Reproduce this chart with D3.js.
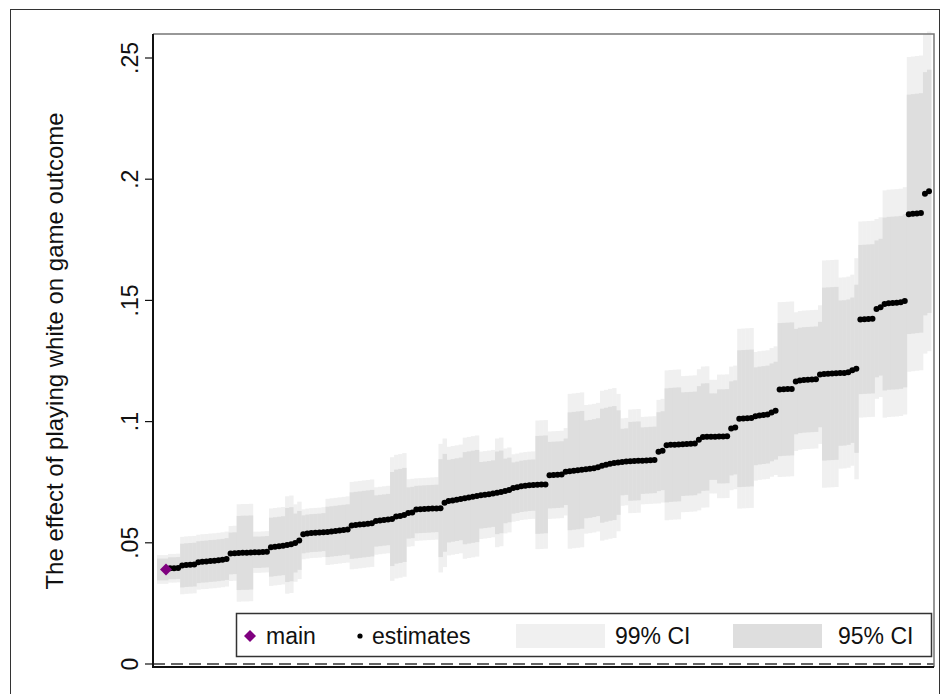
<!DOCTYPE html>
<html>
<head>
<meta charset="utf-8">
<script src="https://cdn.jsdelivr.net/npm/d3@7"></script>
<style>
	body { margin: 0; background: #fff; }
	svg text { font-family: Arial, "Liberation Sans", sans-serif; fill: #111; }
</style>
</head>
<body>
<svg id="plot" width="946" height="694"></svg>
<script>

// point estimates, sorted (spec 1 is the main specification)
const ESTIMATES = [
	0.0390, 0.0395, 0.0395, 0.0396, 0.0406, 0.0408, 0.0409, 0.0410, 0.0420, 0.0422,
	0.0423, 0.0425, 0.0426, 0.0428, 0.0430, 0.0433, 0.0456, 0.0457, 0.0458, 0.0459,
	0.0459, 0.0460, 0.0461, 0.0461, 0.0462, 0.0463, 0.0482, 0.0484, 0.0486, 0.0488,
	0.0491, 0.0494, 0.0499, 0.0510, 0.0535, 0.0538, 0.0540, 0.0541, 0.0542, 0.0544,
	0.0545, 0.0547, 0.0549, 0.0551, 0.0553, 0.0555, 0.0571, 0.0573, 0.0575, 0.0577,
	0.0579, 0.0581, 0.0590, 0.0592, 0.0594, 0.0596, 0.0598, 0.0608, 0.0611, 0.0615,
	0.0623, 0.0625, 0.0637, 0.0638, 0.0639, 0.0640, 0.0641, 0.0642, 0.0643, 0.0665,
	0.0672, 0.0675, 0.0678, 0.0681, 0.0684, 0.0687, 0.0690, 0.0693, 0.0696, 0.0698,
	0.0700, 0.0703, 0.0706, 0.0710, 0.0714, 0.0718, 0.0726, 0.0729, 0.0733, 0.0735,
	0.0737, 0.0738, 0.0739, 0.0740, 0.0741, 0.0779, 0.0780, 0.0781, 0.0782, 0.0793,
	0.0795, 0.0797, 0.0799, 0.0801, 0.0803, 0.0805, 0.0808, 0.0812, 0.0818, 0.0822,
	0.0826, 0.0829, 0.0831, 0.0833, 0.0835, 0.0836, 0.0837, 0.0838, 0.0839, 0.0840,
	0.0841, 0.0842, 0.0876, 0.0880, 0.0902, 0.0904, 0.0905, 0.0906, 0.0907, 0.0908,
	0.0909, 0.0910, 0.0925, 0.0936, 0.0937, 0.0938, 0.0938, 0.0939, 0.0939, 0.0940,
	0.0972, 0.0976, 0.1012, 0.1013, 0.1014, 0.1015, 0.1022, 0.1025, 0.1027, 0.1029,
	0.1038, 0.1045, 0.1132, 0.1133, 0.1134, 0.1135, 0.1165, 0.1170, 0.1172, 0.1173,
	0.1174, 0.1175, 0.1194, 0.1196, 0.1197, 0.1198, 0.1199, 0.1200, 0.1201, 0.1204,
	0.1212, 0.1218, 0.1421, 0.1422, 0.1423, 0.1424, 0.1465, 0.1472, 0.1485, 0.1488,
	0.1489, 0.1490, 0.1492, 0.1498, 0.1855, 0.1857, 0.1859, 0.1861, 0.1940, 0.1950
];

// standard errors, same order
const STD_ERRORS = [
	0.0023, 0.0023, 0.0023, 0.0023, 0.0046, 0.0046, 0.0046, 0.0046, 0.0044, 0.0044,
	0.0044, 0.0044, 0.0044, 0.0044, 0.0044, 0.0044, 0.0044, 0.0044, 0.0078, 0.0078,
	0.0078, 0.0078, 0.0033, 0.0033, 0.0033, 0.0033, 0.0062, 0.0062, 0.0062, 0.0062,
	0.0078, 0.0078, 0.0062, 0.0062, 0.0040, 0.0040, 0.0040, 0.0040, 0.0040, 0.0040,
	0.0053, 0.0053, 0.0053, 0.0053, 0.0053, 0.0053, 0.0070, 0.0070, 0.0070, 0.0070,
	0.0070, 0.0070, 0.0054, 0.0054, 0.0054, 0.0054, 0.0099, 0.0099, 0.0099, 0.0099,
	0.0054, 0.0054, 0.0050, 0.0050, 0.0050, 0.0050, 0.0050, 0.0050, 0.0103, 0.0103,
	0.0087, 0.0087, 0.0087, 0.0087, 0.0097, 0.0097, 0.0097, 0.0097, 0.0070, 0.0070,
	0.0070, 0.0070, 0.0087, 0.0087, 0.0068, 0.0068, 0.0054, 0.0054, 0.0054, 0.0054,
	0.0054, 0.0054, 0.0103, 0.0103, 0.0103, 0.0070, 0.0070, 0.0070, 0.0070, 0.0070,
	0.0124, 0.0124, 0.0124, 0.0124, 0.0103, 0.0103, 0.0103, 0.0103, 0.0120, 0.0120,
	0.0120, 0.0120, 0.0110, 0.0070, 0.0070, 0.0083, 0.0083, 0.0083, 0.0070, 0.0070,
	0.0070, 0.0070, 0.0083, 0.0083, 0.0120, 0.0120, 0.0120, 0.0120, 0.0109, 0.0109,
	0.0109, 0.0109, 0.0113, 0.0113, 0.0113, 0.0091, 0.0091, 0.0099, 0.0099, 0.0099,
	0.0099, 0.0099, 0.0144, 0.0144, 0.0144, 0.0144, 0.0103, 0.0103, 0.0103, 0.0103,
	0.0103, 0.0103, 0.0140, 0.0140, 0.0140, 0.0140, 0.0111, 0.0111, 0.0111, 0.0111,
	0.0111, 0.0111, 0.0111, 0.0182, 0.0182, 0.0182, 0.0182, 0.0153, 0.0153, 0.0153,
	0.0153, 0.0177, 0.0157, 0.0157, 0.0157, 0.0157, 0.0144, 0.0144, 0.0182, 0.0182,
	0.0182, 0.0182, 0.0182, 0.0182, 0.0252, 0.0252, 0.0252, 0.0252, 0.0256, 0.0256
];

const MAIN_SPEC = 1;
const Y_TICKS = [0, 0.05, 0.1, 0.15, 0.2, 0.25];
const Y_TICK_LABELS = ['0', '.05', '.1', '.15', '.2', '.25'];
const Y_TITLE = 'The effect of playing white on game outcome';
const LEGEND_LABELS = ['main', 'estimates', '99% CI', '95% CI'];

const Z95 = 1.96;
const Z99 = 2.576;

const COL_99 = '#f0f0f0';
const COL_95 = '#dedede';
const COL_MAIN = '#7f007f';

const svg = d3.select('#plot');

// outer frame
svg.append('rect')
	.attr('x', 10.5).attr('y', 9.5)
	.attr('width', 929).attr('height', 720)
	.attr('fill', 'none')
	.attr('stroke', '#333').attr('stroke-width', 1);

const box = { left: 153, right: 934, top: 34, bottom: 667 };

const data = ESTIMATES.map((est, i) => ({
	spec: i + 1,
	est: est,
	se: STD_ERRORS[i]
}));

const x = d3.scaleLinear()
	.domain([1, data.length])
	.range([166, 929]);
const step = x(2) - x(1);

const y = d3.scaleLinear()
	.domain([0, 0.25])
	.range([664, 58]);

const plot = svg.append('g');

// bar edges; the first bar reaches back to the axis like in Stata
const barX0 = d => d.spec === 1 ? box.left + 4 : x(d.spec) - step / 2;
const barW = d => x(d.spec) + step / 2 + 0.4 - barX0(d);

// 99% CI bars, then 95% on top
plot.append('g').selectAll('rect')
	.data(data)
	.enter()
	.append('rect')
		.attr('x', barX0)
		.attr('width', barW)
		.attr('y', d => y(d.est + Z99 * d.se))
		.attr('height', d => y(d.est - Z99 * d.se) - y(d.est + Z99 * d.se))
		.attr('fill', COL_99);

plot.append('g').selectAll('rect')
	.data(data)
	.enter()
	.append('rect')
		.attr('x', barX0)
		.attr('width', barW)
		.attr('y', d => y(d.est + Z95 * d.se))
		.attr('height', d => y(d.est - Z95 * d.se) - y(d.est + Z95 * d.se))
		.attr('fill', COL_95);

// zero line
plot.append('line')
	.attr('x1', box.left).attr('x2', box.right)
	.attr('y1', y(0)).attr('y2', y(0))
	.attr('stroke', '#333').attr('stroke-width', 1.5)
	.attr('stroke-dasharray', '12,6');

// estimates
plot.append('g').selectAll('circle')
	.data(data)
	.enter()
	.append('circle')
		.attr('cx', d => x(d.spec))
		.attr('cy', d => y(d.est))
		.attr('r', 3)
		.attr('fill', '#000');

// main spec
const main = data[MAIN_SPEC - 1];
plot.append('path')
	.attr('d', d3.symbol(d3.symbolSquare, 72)())
	.attr('transform', `translate(${x(main.spec)},${y(main.est)}) rotate(45)`)
	.attr('fill', COL_MAIN);

// plot box: top / right grey, axes black
svg.append('path')
	.attr('d', `M${box.left},${box.top}H${box.right}V${box.bottom}`)
	.attr('fill', 'none').attr('stroke', '#777').attr('stroke-width', 1.5);
svg.append('path')
	.attr('d', `M${box.left},${box.top}V${box.bottom}H${box.right}`)
	.attr('fill', 'none').attr('stroke', '#111').attr('stroke-width', 2);

// y axis ticks + rotated labels
const yAxis = svg.append('g');
yAxis.selectAll('line')
	.data(Y_TICKS)
	.enter()
	.append('line')
		.attr('x1', box.left - 8).attr('x2', box.left)
		.attr('y1', d => y(d)).attr('y2', d => y(d))
		.attr('stroke', '#111').attr('stroke-width', 1.2);
yAxis.selectAll('text')
	.data(Y_TICKS)
	.enter()
	.append('text')
		.text((d, i) => Y_TICK_LABELS[i])
		.attr('text-anchor', 'middle')
		.attr('font-size', 23)
		.attr('transform', d => `translate(138,${y(d)}) rotate(-90)`);

svg.append('text')
	.text(Y_TITLE)
	.attr('text-anchor', 'middle')
	.attr('font-size', 24)
	.attr('transform', 'translate(63,351) rotate(-90)');

// legend
const legend = svg.append('g');
legend.append('rect')
	.attr('x', 236.5).attr('y', 613.5)
	.attr('width', 695).attr('height', 43)
	.attr('fill', '#fff')
	.attr('stroke', '#333').attr('stroke-width', 1.5);

const ly = 636;
legend.append('path')
	.attr('d', d3.symbol(d3.symbolSquare, 72)())
	.attr('transform', `translate(250,${ly}) rotate(45)`)
	.attr('fill', COL_MAIN);
legend.append('circle')
	.attr('cx', 360).attr('cy', ly).attr('r', 2.6).attr('fill', '#000');
legend.append('rect')
	.attr('x', 516).attr('y', ly - 12).attr('width', 89).attr('height', 24)
	.attr('fill', COL_99);
legend.append('rect')
	.attr('x', 733).attr('y', ly - 12).attr('width', 89).attr('height', 24)
	.attr('fill', COL_95);

const labelX = [266, 372, 615, 838];
legend.selectAll('text')
	.data(LEGEND_LABELS)
	.enter()
	.append('text')
		.text(d => d)
		.attr('x', (d, i) => labelX[i])
		.attr('y', ly + 8)
		.attr('font-size', 23);

</script>
</body>
</html>
